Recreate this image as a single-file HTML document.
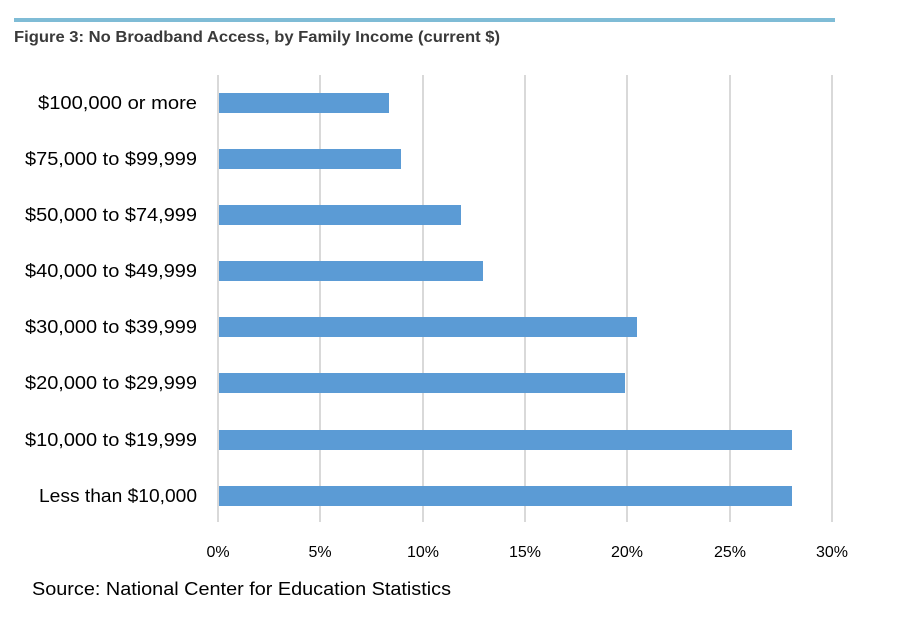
<!DOCTYPE html>
<html><head><meta charset="utf-8"><style>
body{margin:0;background:#fff;width:900px;height:628px;overflow:hidden}
</style></head><body>
<svg width="900" height="628" xmlns="http://www.w3.org/2000/svg" font-family="Liberation Sans, sans-serif">
<rect x="14" y="18" width="821" height="4" fill="#7fbcd6"/>
<text x="14" y="42" font-size="16" font-weight="bold" fill="#3a3a3a" textLength="486" lengthAdjust="spacingAndGlyphs">Figure 3: No Broadband Access, by Family Income (current $)</text>
<g stroke="#d9d9d9" stroke-width="2">
<line x1="218" y1="75" x2="218" y2="522"/>
<line x1="320" y1="75" x2="320" y2="522"/>
<line x1="423" y1="75" x2="423" y2="522"/>
<line x1="525" y1="75" x2="525" y2="522"/>
<line x1="627" y1="75" x2="627" y2="522"/>
<line x1="730" y1="75" x2="730" y2="522"/>
<line x1="832" y1="75" x2="832" y2="522"/>
</g>
<g fill="#5b9bd5">
<rect x="219" y="93" width="170" height="20"/>
<rect x="219" y="149" width="182" height="20"/>
<rect x="219" y="205" width="242" height="20"/>
<rect x="219" y="261" width="264" height="20"/>
<rect x="219" y="317" width="418" height="20"/>
<rect x="219" y="373" width="406" height="20"/>
<rect x="219" y="430" width="573" height="20"/>
<rect x="219" y="486" width="573" height="20"/>
</g>
<g font-size="18" fill="#000" lengthAdjust="spacingAndGlyphs">
<text x="38" y="109" textLength="159" lengthAdjust="spacingAndGlyphs">$100,000 or more</text>
<text x="25" y="165" textLength="172" lengthAdjust="spacingAndGlyphs">$75,000 to $99,999</text>
<text x="25" y="221" textLength="172" lengthAdjust="spacingAndGlyphs">$50,000 to $74,999</text>
<text x="25" y="277" textLength="172" lengthAdjust="spacingAndGlyphs">$40,000 to $49,999</text>
<text x="25" y="333" textLength="172" lengthAdjust="spacingAndGlyphs">$30,000 to $39,999</text>
<text x="25" y="389" textLength="172" lengthAdjust="spacingAndGlyphs">$20,000 to $29,999</text>
<text x="25" y="446" textLength="172" lengthAdjust="spacingAndGlyphs">$10,000 to $19,999</text>
<text x="39" y="502" textLength="158" lengthAdjust="spacingAndGlyphs">Less than $10,000</text>
</g>
<g font-size="16" fill="#000" text-anchor="middle">
<text x="218" y="557">0%</text>
<text x="320" y="557">5%</text>
<text x="423" y="557">10%</text>
<text x="525" y="557">15%</text>
<text x="627" y="557">20%</text>
<text x="730" y="557">25%</text>
<text x="832" y="557">30%</text>
</g>
<text x="32" y="595" font-size="18" fill="#000" textLength="419" lengthAdjust="spacingAndGlyphs">Source: National Center for Education Statistics</text>
</svg>
</body></html>
